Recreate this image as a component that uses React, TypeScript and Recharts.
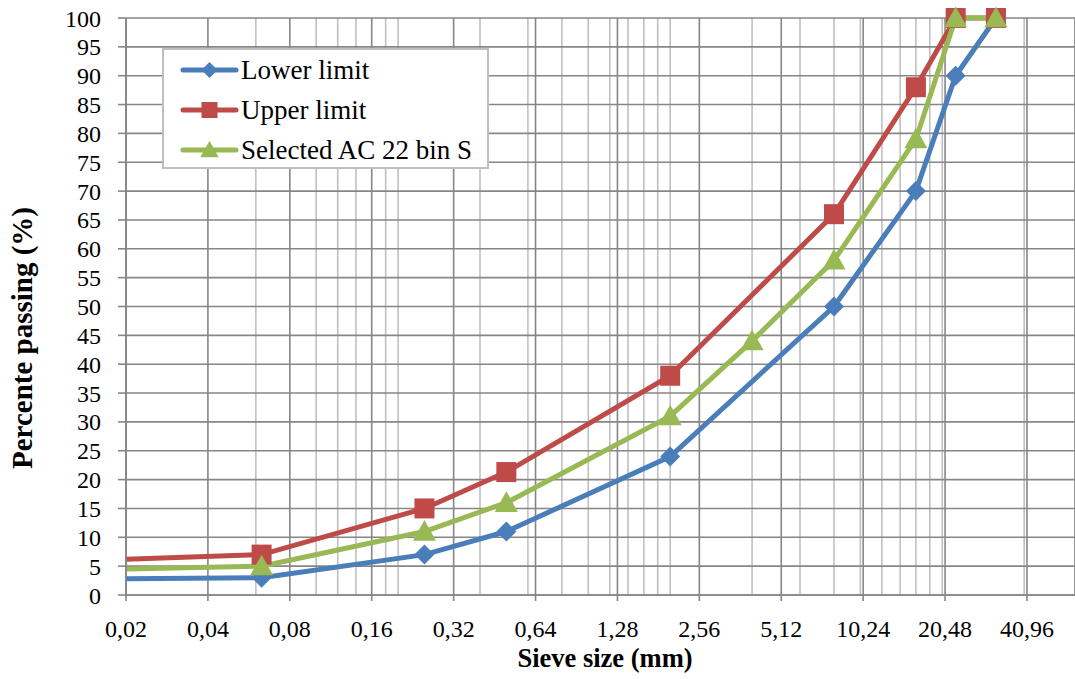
import React from "react";
import { CartesianGrid, Label, Legend, Line, LineChart, XAxis, YAxis } from "recharts";

// sieve sizes (mm) and percent passing
const sievesLimits = [0.02, 0.063, 0.25, 0.5, 2, 8, 16, 22.4, 31.5];
const lowerLimit = [2.8, 3, 7, 11, 24, 50, 70, 90, 100];
const upperLimit = [6.2, 7, 15, 21.3, 38, 66, 88, 100, 100];

const sievesSelected = [0.02, 0.063, 0.25, 0.5, 2, 4, 8, 16, 22.4, 31.5];
const selectedMix = [4.5, 5, 11, 16, 31, 44, 58, 79, 100, 100];

const xTicks = [0.02, 0.04, 0.08, 0.16, 0.32, 0.64, 1.28, 2.56, 5.12, 10.24, 20.48, 40.96];
const xMinorTicks = [0.06, 0.1, 0.12, 0.14, 0.18, 0.2, 0.4, 0.6, 0.8, 1, 1.2, 1.4, 1.6, 1.8, 2, 4, 6, 8, 10, 12, 14, 16, 18, 20, 40];
const yTicks = [0, 5, 10, 15, 20, 25, 30, 35, 40, 45, 50, 55, 60, 65, 70, 75, 80, 85, 90, 95, 100];

const X_DOMAIN = [0.02, 61.5];

const toPoints = (xs: number[], ys: number[]) => xs.map((x, i) => ({ x, y: ys[i] }));

const lowerData = toPoints(sievesLimits, lowerLimit);
const upperData = toPoints(sievesLimits, upperLimit);
const selectedData = toPoints(sievesSelected, selectedMix);

const FONT = '"Liberation Serif", "Times New Roman", serif';
const GRID = "#868686";
const GRID_MINOR = "#c0c0c0";

type Kind = "diamond" | "square" | "triangle";

const series: { name: string; color: string; kind: Kind; data: { x: number; y: number }[] }[] = [
  { name: "Lower limit", color: "#4a7ebb", kind: "diamond", data: lowerData },
  { name: "Upper limit", color: "#be4b48", kind: "square", data: upperData },
  { name: "Selected AC 22 bin S", color: "#98b954", kind: "triangle", data: selectedData },
];

function Marker({ kind, cx, cy, color, s = 1 }: { kind: Kind; cx: number; cy: number; color: string; s?: number }) {
  if (kind === "diamond") {
    const r = 10 * s;
    return <polygon points={`${cx},${cy - r} ${cx + r},${cy} ${cx},${cy + r} ${cx - r},${cy}`} fill={color} />;
  }
  if (kind === "square") {
    const h = 10 * s;
    return <rect x={cx - h} y={cy - h} width={2 * h} height={2 * h} fill={color} />;
  }
  const w = 11.5 * s;
  return <polygon points={`${cx},${cy - w} ${cx + w},${cy + w * 0.8} ${cx - w},${cy + w * 0.8}`} fill={color} />;
}

const fmt = (v: number) => String(v).replace(".", ",");

function LegendBox({ payload }: any) {
  // keep the series order rather than the alphabetical one
  const items = series.filter((s) => (payload || []).some((p: any) => p.value === s.name));
  return (
    <div
      style={{
        width: 327,
        height: 121,
        boxSizing: "border-box",
        border: "2px solid #bfbfbf",
        background: "#fff",
        fontFamily: FONT,
        fontSize: 27,
        color: "#000",
      }}
    >
      {items.map((s) => (
        <div key={s.name} style={{ display: "flex", alignItems: "center", height: 40 }}>
          <svg width={59} height={24} style={{ marginLeft: 16, flex: "none" }}>
            <line x1={3} y1={12} x2={56} y2={12} stroke={s.color} strokeWidth={5} strokeLinecap="round" />
            <Marker kind={s.kind} cx={29.5} cy={12} color={s.color} s={0.8} />
          </svg>
          <span style={{ marginLeft: 2, lineHeight: "27px", whiteSpace: "nowrap" }}>{s.name}</span>
        </div>
      ))}
    </div>
  );
}

export default function App() {
  return (
    <div style={{ position: "absolute", left: 0, top: 0, width: 1075, height: 679, background: "#fff" }}>
      <LineChart width={1075} height={679} margin={{ top: 18, right: 0, bottom: 0, left: 0 }}>
        <XAxis
          xAxisId="minor"
          dataKey="x"
          type="number"
          scale="log"
          domain={X_DOMAIN}
          allowDataOverflow
          ticks={xMinorTicks}
          interval={0}
          hide
        />
        <CartesianGrid xAxisId="minor" horizontal={false} stroke={GRID_MINOR} strokeWidth={1.6} />
        <CartesianGrid stroke={GRID} strokeWidth={1.6} />
        <XAxis
          dataKey="x"
          type="number"
          scale="log"
          domain={X_DOMAIN}
          allowDataOverflow
          ticks={xTicks}
          interval={0}
          tickFormatter={fmt}
          height={84}
          tickSize={6}
          tickMargin={19}
          stroke={GRID}
          strokeWidth={1.6}
          tick={{ fill: "#000", fontSize: 24, fontFamily: FONT }}
        >
          <Label
            content={() => (
              <text x={605} y={667} textAnchor="middle" fontFamily={FONT} fontSize={26.5} fontWeight="bold" fill="#000">
                Sieve size (mm)
              </text>
            )}
          />
        </XAxis>
        <YAxis
          type="number"
          domain={[0, 100]}
          ticks={yTicks}
          interval={0}
          width={126}
          tickSize={8}
          tickMargin={17}
          stroke={GRID}
          strokeWidth={1.6}
          tick={{ fill: "#000", fontSize: 24, fontFamily: FONT }}
        >
          <Label
            content={() => (
              <text
                x={0}
                y={0}
                transform="translate(32 338) rotate(-90)"
                textAnchor="middle"
                fontFamily={FONT}
                fontSize={29}
                fontWeight="bold"
                fill="#000"
              >
                Percente passing (%)
              </text>
            )}
          />
        </YAxis>
        <Legend
          layout="vertical"
          align="center"
          verticalAlign="middle"
          content={LegendBox}
          wrapperStyle={{ left: 162, top: 48, width: 327, height: 121 }}
        />
        {series.map((s) => (
          <Line
            key={s.name}
            name={s.name}
            data={s.data}
            dataKey="y"
            type="linear"
            stroke={s.color}
            strokeWidth={5}
            isAnimationActive={false}
            dot={(p: any) =>
              // the point on the axis edge is clipped away in the original, only its line shows
              p.payload && p.payload.x <= X_DOMAIN[0] ? (
                <g key={`${s.name}-${p.index}`} />
              ) : (
                <Marker key={`${s.name}-${p.index}`} kind={s.kind} cx={p.cx} cy={p.cy} color={s.color} />
              )
            }
            activeDot={false}
          />
        ))}
      </LineChart>
    </div>
  );
}
